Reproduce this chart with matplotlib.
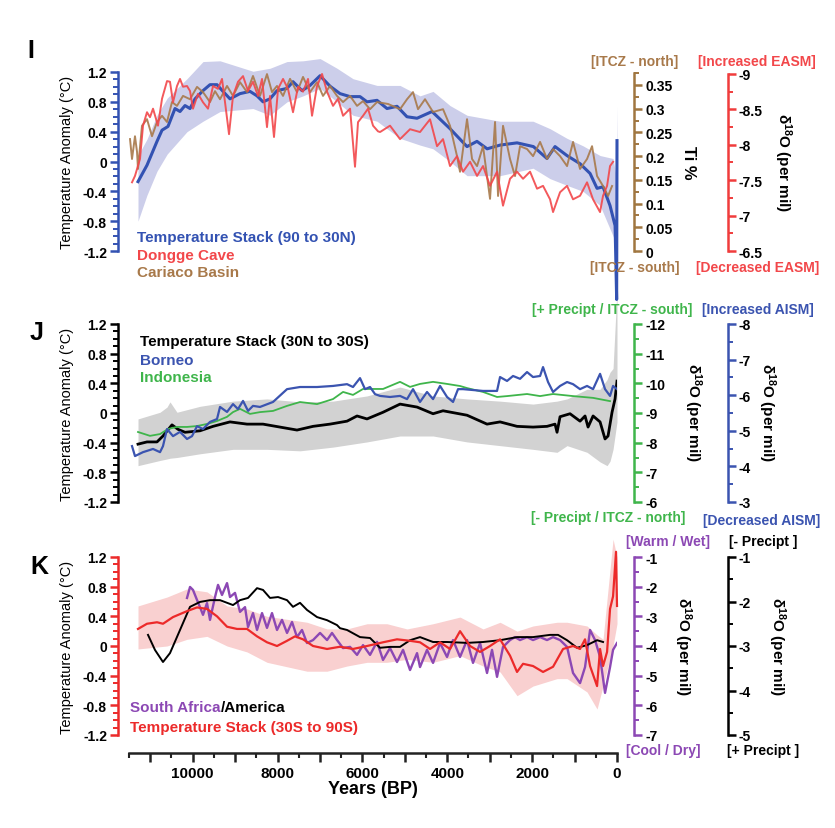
import matplotlib
matplotlib.use('Agg')
import matplotlib.pyplot as plt
from matplotlib.ticker import FixedLocator, FuncFormatter

plt.rcParams['font.family'] = ['Liberation Sans', 'DejaVu Sans']
plt.rcParams['font.weight'] = 'bold'
plt.rcParams['axes.unicode_minus'] = False
plt.rcParams['mathtext.fontset'] = 'custom'
plt.rcParams['mathtext.rm'] = 'Liberation Sans:bold'
plt.rcParams['mathtext.bf'] = 'Liberation Sans:bold'
plt.rcParams['mathtext.default'] = 'bf'

# ---------------- panel I : 90N-30N ----------------
stackI_yr = [11288, 11076, 10840, 10722, 10581, 10416, 10298, 10180, 10062, 9944,
             9756, 9591, 9426, 9285, 9120, 8884, 8648, 8483, 8342, 8177,
             8012, 7776, 7635, 7423, 7234, 6998, 6763, 6527, 6291, 6056,
             5891, 5655, 5420, 5184, 4950, 4712, 4359, 3935, 3535, 3300,
             3060, 2755, 2355, 1970, 1650, 1460, 1180, 870, 635, 470,
             330, 165, 45, 8, 0]
stackI_t = [-0.27, -0.05, 0.27, 0.42, 0.47, 0.71, 0.67, 0.75, 0.71, 0.84,
            0.95, 1.03, 1.03, 0.94, 0.84, 0.91, 0.94, 0.88, 0.80, 0.84,
            0.95, 0.98, 1.07, 0.95, 1.02, 1.15, 1.01, 0.91, 0.87, 0.87,
            0.80, 0.82, 0.71, 0.74, 0.60, 0.58, 0.67, 0.44, 0.20, 0.27,
            0.17, 0.22, 0.25, 0.20, 0.04, 0.20, 0.08, -0.03, -0.16, -0.36,
            -0.34, -0.59, -0.86, -1.85, 0.28]
bandI_yr = [11288, 11076, 10840, 10600, 10133, 9756, 9355, 8578, 8177, 7776,
            7399, 6998, 6598, 6221, 5655, 5113, 4642, 4335, 3935, 3534,
            2756, 1979, 1578, 1177, 800, 399, 93, 20, 0]
bandI_hi = [0.08, 0.30, 0.62, 0.85, 1.11, 1.34, 1.35, 1.21, 1.25, 1.34,
            1.35, 1.38, 1.25, 1.11, 1.02, 1.02, 0.88, 0.94, 0.75, 0.62,
            0.54, 0.54, 0.44, 0.31, 0.21, 0.08, 0.04, -0.20, 0.74]
bandI_lo = [-0.80, -0.45, -0.13, 0.10, 0.40, 0.54, 0.67, 0.71, 0.62, 0.80,
            0.88, 0.98, 0.80, 0.62, 0.54, 0.31, 0.22, 0.17, 0.00, -0.19,
            -0.19, -0.09, -0.23, -0.32, -0.40, -0.59, -1.00, -1.10, -1.50]

dongge_yr = [11429, 11359, 11241, 11170, 11076, 11005, 10934, 10817, 10722, 10604,
             10534, 10463, 10369, 10298, 10227, 10133, 10062, 9992, 9874, 9756,
             9638, 9520, 9402, 9308, 9237, 9143, 9049, 8931, 8813, 8695,
             8578, 8460, 8365, 8248, 8177, 8083, 7988, 7870, 7753, 7635,
             7517, 7399, 7281, 7187, 7069, 6951, 6833, 6692, 6574, 6456,
             6291, 6174, 6103, 5985, 5867, 5749, 5632, 5584, 5349, 5113,
             4877, 4642, 4406, 4241, 4100, 3935, 3770, 3628, 3463, 3298,
             3157, 2992, 2827, 2686, 2521, 2356, 2214, 2049, 1884, 1743,
             1578, 1507, 1342, 1177, 1036, 871, 706, 565, 400, 329,
             234, 164, 93]
dongge_d18o = [-7.47, -7.56, -7.80, -8.27, -8.46, -8.39, -8.51, -8.27, -8.65, -8.90,
               -8.89, -8.60, -8.83, -8.93, -8.82, -8.83, -8.76, -8.51, -8.72, -8.60,
               -8.51, -8.83, -8.79, -8.93, -8.60, -8.15, -8.69, -8.89, -8.97, -8.76,
               -8.89, -8.69, -8.93, -8.25, -8.69, -8.11, -8.79, -8.93, -8.79, -8.46,
               -8.82, -8.75, -8.93, -8.41, -8.83, -9.00, -8.75, -8.55, -8.65, -8.41,
               -8.51, -7.69, -8.32, -8.41, -8.51, -8.27, -8.19, -8.18, -8.27, -8.08,
               -8.22, -8.18, -8.36, -7.98, -8.08, -7.70, -7.84, -7.62, -7.76, -7.56,
               -7.70, -7.42, -7.62, -7.14, -7.52, -7.62, -7.52, -7.62, -7.38, -7.42,
               -7.23, -7.05, -7.33, -7.42, -7.23, -7.28, -7.47, -7.23, -7.05, -7.28,
               -7.42, -7.70, -7.76]

cariaco_yr = [11476, 11429, 11359, 11311, 11288, 11194, 11076, 10958, 10840, 10722,
              10604, 10487, 10369, 10227, 10062, 9897, 9756, 9591, 9473, 9355,
              9190, 9049, 8884, 8719, 8578, 8413, 8248, 8130, 8012, 7870,
              7705, 7541, 7399, 7234, 7069, 6928, 6763, 6598, 6456, 6291,
              6126, 5985, 5820, 5655, 5396, 5113, 4948, 4807, 4689, 4524,
              4335, 4100, 3935, 3770, 3699, 3534, 3416, 3298, 3157, 2992,
              2874, 2803, 2686, 2521, 2403, 2285, 2120, 1978, 1813, 1648,
              1507, 1342, 1177, 1036, 871, 706, 588, 470, 329, 211, 117]
cariaco_ti = [0.236, 0.194, 0.242, 0.209, 0.173, 0.264, 0.278, 0.242, 0.272, 0.285,
              0.272, 0.314, 0.306, 0.327, 0.320, 0.346, 0.335, 0.314, 0.337, 0.320,
              0.348, 0.327, 0.356, 0.335, 0.369, 0.327, 0.373, 0.335, 0.348, 0.327,
              0.363, 0.335, 0.367, 0.335, 0.356, 0.327, 0.348, 0.327, 0.314, 0.327,
              0.306, 0.316, 0.299, 0.314, 0.310, 0.299, 0.320, 0.335, 0.299, 0.320,
              0.293, 0.299, 0.264, 0.200, 0.167, 0.278, 0.194, 0.179, 0.221, 0.110,
              0.272, 0.116, 0.264, 0.194, 0.158, 0.221, 0.215, 0.200, 0.230, 0.194,
              0.215, 0.200, 0.179, 0.230, 0.173, 0.194, 0.221, 0.158, 0.137, 0.116, 0.137]

# ---------------- panel J : 30N-30S ----------------
stackJ_yr = [11288, 11076, 10840, 10699, 10487, 10345, 10180, 9827, 9520, 9120,
             8719, 8342, 7941, 7541, 7163, 6763, 6362, 6126, 5891, 5514,
             5113, 4712, 4335, 4100, 3534, 3063, 2756, 2356, 1979, 1649,
             1460, 1413, 1342, 1107, 871, 753, 682, 564, 399, 282,
             211, 117, 46, 0]
stackJ_t = [-0.42, -0.39, -0.39, -0.31, -0.16, -0.22, -0.26, -0.24, -0.18, -0.12,
            -0.15, -0.15, -0.19, -0.23, -0.18, -0.15, -0.11, -0.04, -0.08, 0.01,
            0.12, 0.08, -0.01, 0.03, -0.03, -0.15, -0.12, -0.18, -0.19, -0.18,
            -0.15, -0.26, -0.05, -0.01, -0.11, -0.04, -0.19, -0.04, -0.12, -0.35,
            -0.31, 0.01, 0.19, 0.43]
bandJ_yr = [11288, 10769, 10604, 10534, 10369, 9827, 9049, 8248, 7470, 6692,
            5891, 5113, 4335, 3534, 2756, 1979, 1413, 1177, 706, 399,
            234, 164, 93, 0]
bandJ_hi = [-0.08, 0.01, 0.08, 0.15, 0.01, 0.09, 0.16, 0.19, 0.15, 0.16,
            0.23, 0.35, 0.23, 0.19, 0.16, 0.12, 0.16, 0.19, 0.32, 0.32,
            0.45, 0.55, 0.60, 1.67]
bandJ_lo = [-0.71, -0.64, -0.62, -0.61, -0.60, -0.55, -0.49, -0.49, -0.51, -0.46,
            -0.39, -0.31, -0.31, -0.39, -0.44, -0.49, -0.53, -0.44, -0.53, -0.66,
            -0.71, -0.65, -0.49, -0.12]

borneo_yr = [11429, 11359, 11170, 10934, 10769, 10699, 10604, 10463, 10298, 10133,
             10015, 9897, 9756, 9591, 9426, 9355, 9190, 9049, 8931, 8813,
             8695, 8578, 8413, 8106, 7776, 7470, 7069, 6692, 6362, 6221,
             6056, 5938, 5820, 5702, 5584, 5349, 5113, 4948, 4807, 4642,
             4477, 4335, 4170, 4005, 3864, 3746, 3628, 3157, 2827, 2756,
             2591, 2450, 2285, 2120, 1979, 1813, 1743, 1625, 1507, 1342,
             1177, 1036, 871, 706, 564, 399, 282, 164, 93, 0]
borneo_d18o = [-4.57, -4.29, -4.40, -4.49, -4.40, -4.57, -5.05, -4.85, -4.97, -4.77,
               -4.85, -5.13, -5.05, -5.25, -5.33, -5.67, -5.53, -5.75, -5.61, -5.84,
               -5.56, -5.70, -5.67, -5.81, -6.17, -6.23, -6.23, -6.26, -6.31, -6.23,
               -6.48, -6.17, -6.23, -6.03, -5.98, -5.95, -5.98, -5.89, -6.17, -5.81,
               -6.09, -5.89, -6.26, -5.95, -5.81, -6.17, -6.17, -6.12, -6.12, -6.51,
               -6.40, -6.54, -6.46, -6.65, -6.51, -6.54, -6.79, -6.37, -6.09, -6.26,
               -6.37, -6.31, -6.17, -6.26, -6.17, -6.60, -6.17, -5.98, -6.26, -6.17]

indonesia_yr = [11288, 11005, 10769, 10581, 10369, 10133, 9897, 9662, 9426, 9190,
                9049, 8884, 8648, 8413, 8106, 7776, 7470, 7069, 6692, 6456,
                6221, 5985, 5514, 5113, 4877, 4642, 4335, 4005, 3699, 3534,
                3157, 2827, 2591, 2120, 1813, 1507, 1036, 564, 164]
indonesia_d18o = [-8.36, -8.23, -8.29, -8.46, -8.53, -8.53, -8.56, -8.63, -8.73, -8.87,
                  -9.03, -9.14, -8.97, -9.03, -9.07, -9.24, -9.37, -9.30, -9.47, -9.71,
                  -9.61, -9.81, -9.81, -10.05, -9.88, -9.98, -10.05, -9.98, -9.91, -9.84,
                  -9.71, -9.54, -9.57, -9.64, -9.57, -9.64, -9.57, -9.51, -9.40]

# ---------------- panel K : 30S-90S ----------------
stackK_yr = [11288, 11076, 10840, 10699, 10463, 10133, 9897, 9662, 9426, 9190,
             8955, 8719, 8483, 8248, 8012, 7776, 7588, 7399, 7163, 6833,
             6527, 6221, 5891, 5514, 5184, 4877, 4642, 4406, 4170, 3935,
             3699, 3463, 3227, 2992, 2756, 2521, 2356, 2214, 1979, 1743,
             1507, 1271, 1036, 871, 753, 635, 470, 399, 329, 234,
             164, 93, 23, 0]
stackK_t = [0.23, 0.30, 0.32, 0.30, 0.39, 0.47, 0.52, 0.50, 0.40, 0.26,
            0.23, 0.23, 0.13, 0.05, 0.00, 0.07, 0.13, 0.09, 0.00, -0.04,
            -0.01, -0.04, 0.00, 0.05, 0.09, 0.07, 0.05, -0.04, 0.05, -0.04,
            0.20, 0.00, -0.08, 0.00, 0.09, -0.13, -0.35, -0.24, -0.27, -0.35,
            -0.28, -0.04, 0.00, -0.04, 0.09, -0.27, -0.54, -0.04, -0.27, -0.08,
            0.50, 0.67, 1.27, 0.54]
bandK_yr = [11288, 10604, 10133, 9662, 9190, 8719, 8248, 7776, 7305, 6833,
            6362, 5891, 5420, 4948, 4335, 3699, 3157, 2756, 2356, 1979,
            1413, 1177, 706, 470, 329, 93, 0]
bandK_hi = [0.54, 0.66, 0.77, 0.73, 0.54, 0.50, 0.40, 0.36, 0.32, 0.23,
            0.23, 0.30, 0.30, 0.23, 0.30, 0.39, 0.23, 0.32, 0.20, 0.27,
            0.32, 0.32, 0.27, 0.15, 0.09, 1.44, 1.20]
bandK_lo = [-0.04, 0.00, 0.09, 0.13, 0.00, -0.08, -0.22, -0.28, -0.34, -0.34,
            -0.27, -0.22, -0.22, -0.18, -0.22, -0.13, -0.27, -0.35, -0.67, -0.54,
            -0.44, -0.44, -0.62, -0.85, -0.54, 0.00, 0.30]

safrica_yr = [10133, 10062, 9992, 9897, 9827, 9756, 9662, 9591, 9473, 9402,
              9308, 9190, 9120, 9002, 8884, 8766, 8695, 8578, 8483, 8365,
              8248, 8130, 8012, 7894, 7776, 7658, 7541, 7423, 7305, 7163,
              6998, 6833, 6716, 6598, 6456, 6291, 6126, 5985, 5820, 5655,
              5514, 5349, 5184, 5042, 4877, 4712, 4642, 4477, 4335, 4170,
              4005, 3864, 3699, 3534, 3393, 3227, 3063, 2945, 2827, 2686,
              2521, 2403, 2285, 2120, 1979, 1813, 1649, 1507, 1342, 1177,
              1036, 871, 753, 635, 517, 399, 282, 164, 93, 0]
safrica_d18o = [-2.38, -2.01, -2.11, -2.45, -2.69, -2.95, -2.55, -3.12, -2.35, -1.94,
                -2.28, -1.88, -2.35, -2.21, -2.85, -2.69, -3.36, -2.89, -3.46, -2.89,
                -3.39, -2.89, -3.46, -3.12, -3.56, -3.19, -3.70, -3.46, -3.90, -3.80,
                -3.56, -3.80, -3.56, -3.80, -4.07, -4.03, -4.30, -3.97, -4.30, -3.86,
                -4.47, -4.07, -4.54, -4.13, -4.81, -4.24, -4.71, -4.13, -4.57, -3.90,
                -4.37, -3.80, -4.37, -3.80, -4.57, -3.90, -4.91, -4.13, -5.04, -4.03,
                -3.80, -3.70, -3.80, -3.70, -3.80, -3.70, -3.80, -3.70, -3.80, -4.03,
                -4.91, -5.25, -4.71, -3.46, -3.80, -4.37, -5.58, -4.71, -4.13, -3.90]

samerica_yr = [11052, 10887, 10699, 10534, 10298, 10062, 9827, 9591, 9355, 9049,
               8884, 8695, 8483, 8342, 8177, 7988, 7776, 7635, 7470, 7305,
               7069, 6833, 6598, 6527, 6362, 6056, 5820, 5584, 5349, 5113,
               4877, 4642, 4335, 4005, 3534, 3157, 2756, 2356, 1979, 1578,
               1389, 1177, 941, 706, 470, 329]
samerica_d18o = [-2.75, -3.09, -3.36, -3.16, -2.64, -2.12, -2.01, -1.97, -1.97, -2.08,
                 -1.97, -1.92, -1.70, -1.74, -1.92, -1.90, -1.97, -2.12, -2.03, -2.19,
                 -2.35, -2.42, -2.53, -2.60, -2.64, -2.80, -2.82, -3.04, -3.02, -3.02,
                 -2.87, -2.80, -2.91, -2.91, -2.93, -2.91, -2.87, -2.80, -2.80, -2.75,
                 -2.75, -2.87, -3.04, -2.98, -2.87, -2.91]

year_ticks = [0, 1000, 2000, 3000, 4000, 5000, 6000, 7000, 8000, 9000, 10000, 11000]
year_minor = [500, 1500, 2500, 3500, 4500, 5500, 6500, 7500, 8500, 9500, 10500, 11500]
temp_ticks = [-1.2, -0.8, -0.4, 0, 0.4, 0.8, 1.2]

# colours
BLUE = '#3352b2'
LAVENDER = '#b9bbe2'
RED = '#f2474a'
BROWN = '#a8794a'
GREEN = '#3fb54b'
BLUE_J = '#3b54b0'
GREY = '#d2d2d2'
RED_K = '#ec2a2a'
PURPLE = '#8c48b4'
PINK = '#f9d0d0'

W, H = 835, 829
fig = plt.figure(figsize=(W / 100, H / 100), dpi=100)


def fig_text(x, y, s, **kw):
    return fig.text(x / W, 1 - y / H, s, **kw)


def temp_axes(top, bottom, color):
    ax = fig.add_axes([129 / W, 1 - bottom / H, 488 / W, (bottom - top) / H])
    ax.set_xlim(11500, 0)
    ax.set_ylim(-1.2, 1.2)
    for side in ['top', 'right', 'bottom']:
        ax.spines[side].set_visible(False)
    ax.spines['left'].set_position(('axes', -11 / 488))
    ax.spines['left'].set_color(color)
    ax.spines['left'].set_linewidth(1.8)
    ax.yaxis.set_major_locator(FixedLocator(temp_ticks))
    ax.yaxis.set_minor_locator(FixedLocator([i / 10 for i in range(-12, 13)]))
    ax.yaxis.set_major_formatter(FuncFormatter(lambda v, p: '0' if abs(v) < 1e-9 else '%.1f' % v))
    ax.tick_params(axis='y', which='major', length=6, width=1.8, color=color, labelsize=10, pad=2)
    ax.tick_params(axis='y', which='minor', length=3.5, width=1.4, color=color)
    ax.tick_params(axis='x', which='both', bottom=False, labelbottom=False)
    fig_text(67, (top + bottom) / 2, 'Temperature Anomaly (\u00b0C)', rotation=90,
             ha='center', va='center', fontsize=10.5, fontweight='normal')
    return ax


def side_axes(ax, pos, color, lim, major, minor):
    tw = ax.twinx()
    tw.set_ylim(*lim)
    for side in ['top', 'left', 'bottom']:
        tw.spines[side].set_visible(False)
    sp = tw.spines['right']
    sp.set_position(('axes', pos))
    sp.set_color(color)
    sp.set_linewidth(1.8)
    sp.set_bounds(min(minor), max(minor))
    tw.yaxis.set_major_locator(FixedLocator(major))
    tw.yaxis.set_minor_locator(FixedLocator(minor))
    tw.yaxis.set_major_formatter(FuncFormatter(lambda v, p: '%g' % round(v, 3)))
    tw.tick_params(axis='y', which='major', length=6, width=1.8, color=color, labelsize=10, pad=2)
    tw.tick_params(axis='y', which='minor', length=3.5, width=1.4, color=color)
    return tw


D18O = '\u03b4$^{18}$O (per mil)'

# ---------------- panel I ----------------
axI = temp_axes(73, 252, BLUE)
axI.set_zorder(3)
axI.patch.set_visible(False)
tiI = side_axes(axI, 1.035, '#a07640', (0, 0.3774),
                [0, 0.05, 0.1, 0.15, 0.2, 0.25, 0.3, 0.35],
                [i * 0.025 for i in range(16)])
tiI.plot(cariaco_yr, cariaco_ti, color=BROWN, lw=1.4, alpha=0.9)
dgI = side_axes(axI, 1.227, '#f03c3c', (-6.5, -9.028),
                [-9, -8.5, -8, -7.5, -7, -6.5],
                [-9 + i * 0.25 for i in range(11)])
dgI.plot(dongge_yr, dongge_d18o, color=RED, lw=1.4, alpha=0.9)
axI.fill_between(bandI_yr, bandI_lo, bandI_hi, color=LAVENDER, alpha=0.72, lw=0, clip_on=False)
axI.plot(stackI_yr, stackI_t, color=BLUE, lw=2.2, clip_on=False)

fig_text(31, 51, 'I', fontsize=18, ha='center', va='center')
fig_text(137, 238, 'Temperature Stack (90 to 30N)', color=BLUE, fontsize=11, va='center')
fig_text(137, 256, 'Dongge Cave', color=RED, fontsize=11, va='center')
fig_text(137, 273, 'Cariaco Basin', color=BROWN, fontsize=11, va='center')
fig_text(635, 62, '[ITCZ - north]', color=BROWN, fontsize=10, ha='center', va='center')
fig_text(757, 62, '[Increased EASM]', color=RED, fontsize=10, ha='center', va='center')
fig_text(635, 268, '[ITCZ - south]', color=BROWN, fontsize=10, ha='center', va='center')
fig_text(758, 268, '[Decreased EASM]', color=RED, fontsize=10, ha='center', va='center')
fig_text(688, 163, 'Ti %', rotation=-90, fontsize=12, ha='center', va='center')
fig_text(783, 163, D18O, rotation=-90, fontsize=11, ha='center', va='center')

# ---------------- panel J ----------------
axJ = temp_axes(325, 503, 'black')
axJ.fill_between(bandJ_yr, bandJ_lo, bandJ_hi, color=GREY, lw=0, clip_on=False)
axJ.plot(stackJ_yr, stackJ_t, color='black', lw=2.0)
grJ = side_axes(axJ, 1.035, GREEN, (-6, -12),
                [-12, -11, -10, -9, -8, -7, -6],
                [-12 + i * 0.5 for i in range(13)])
grJ.plot(indonesia_yr, indonesia_d18o, color=GREEN, lw=1.3)
blJ = side_axes(axJ, 1.227, BLUE_J, (-3, -8),
                [-8, -7, -6, -5, -4, -3],
                [-8 + i * 0.5 for i in range(11)])
blJ.plot(borneo_yr, borneo_d18o, color=BLUE_J, lw=1.6)

fig_text(37, 333, 'J', fontsize=18, ha='center', va='center')
fig_text(140, 342, 'Temperature Stack (30N to 30S)', color='black', fontsize=11, va='center')
fig_text(140, 361, 'Borneo', color=BLUE_J, fontsize=11, va='center')
fig_text(140, 378, 'Indonesia', color=GREEN, fontsize=11, va='center')
fig_text(612, 310, '[+ Precipt / ITCZ - south]', color=GREEN, fontsize=10, ha='center', va='center')
fig_text(758, 310, '[Increased AISM]', color=BLUE_J, fontsize=10, ha='center', va='center')
fig_text(608, 518, '[- Precipt / ITCZ - north]', color=GREEN, fontsize=10, ha='center', va='center')
fig_text(762, 521, '[Decreased AISM]', color=BLUE_J, fontsize=10, ha='center', va='center')
fig_text(693, 413, D18O, rotation=-90, fontsize=11, ha='center', va='center')
fig_text(767, 413, D18O, rotation=-90, fontsize=11, ha='center', va='center')

# ---------------- panel K ----------------
axK = temp_axes(558, 736, RED_K)
axK.fill_between(bandK_yr, bandK_lo, bandK_hi, color=PINK, lw=0, clip_on=False)
puK = side_axes(axK, 1.035, PURPLE, (-7, -1),
                [-7, -6, -5, -4, -3, -2, -1],
                [-7 + i * 0.5 for i in range(13)])
puK.plot(safrica_yr, safrica_d18o, color=PURPLE, lw=1.7)
bkK = side_axes(axK, 1.227, 'black', (-5, -1),
                [-5, -4, -3, -2, -1],
                [-5 + i * 0.5 for i in range(9)])
bkK.plot(samerica_yr, samerica_d18o, color='black', lw=1.4)
# stack line drawn last (on top of the proxy curves), in temperature units
bkK.plot(stackK_yr, stackK_t, color=RED_K, lw=1.6, clip_on=False, transform=axK.transData)
bkK.set_ylim(-5, -1)

# shared year axis under panel K
axK.spines['bottom'].set_visible(True)
axK.spines['bottom'].set_position(('axes', -18 / 178))
axK.spines['bottom'].set_linewidth(1.8)
axK.spines['bottom'].set_color('#222222')
axK.xaxis.set_major_locator(FixedLocator(year_ticks))
axK.xaxis.set_minor_locator(FixedLocator(year_minor))
axK.xaxis.set_major_formatter(FuncFormatter(lambda v, p: '%d' % v if int(v) % 2000 == 0 else ''))
axK.tick_params(axis='x', which='major', bottom=True, labelbottom=True, length=6.5,
                width=1.8, color='#222222', labelsize=11, pad=3)
axK.tick_params(axis='x', which='minor', bottom=True, length=3.5, width=1.5, color='#222222')
axK.set_xlim(11500, 0)
fig_text(373, 790, 'Years (BP)', fontsize=13, ha='center', va='center')

fig_text(39, 567, 'K', fontsize=18, ha='center', va='center')
t1 = fig_text(130, 708, 'South Africa', color=PURPLE, fontsize=11, va='center')
fig.canvas.draw()
bb = t1.get_window_extent()
fig.text(bb.x1 / W, 1 - 708 / H, '/America', color='black', fontsize=11, va='center')
fig_text(130, 728, 'Temperature Stack (30S to 90S)', color=RED_K, fontsize=11, va='center')
fig_text(668, 542, '[Warm / Wet]', color=PURPLE, fontsize=10, ha='center', va='center')
fig_text(763, 542, '[- Precipt ]', color='black', fontsize=10, ha='center', va='center')
fig_text(663, 751, '[Cool / Dry]', color=PURPLE, fontsize=10, ha='center', va='center')
fig_text(763, 751, '[+ Precipt ]', color='black', fontsize=10, ha='center', va='center')
fig_text(683, 647, D18O, rotation=-90, fontsize=11, ha='center', va='center')
fig_text(777, 647, D18O, rotation=-90, fontsize=11, ha='center', va='center')

fig.savefig('out.png', dpi=100)
